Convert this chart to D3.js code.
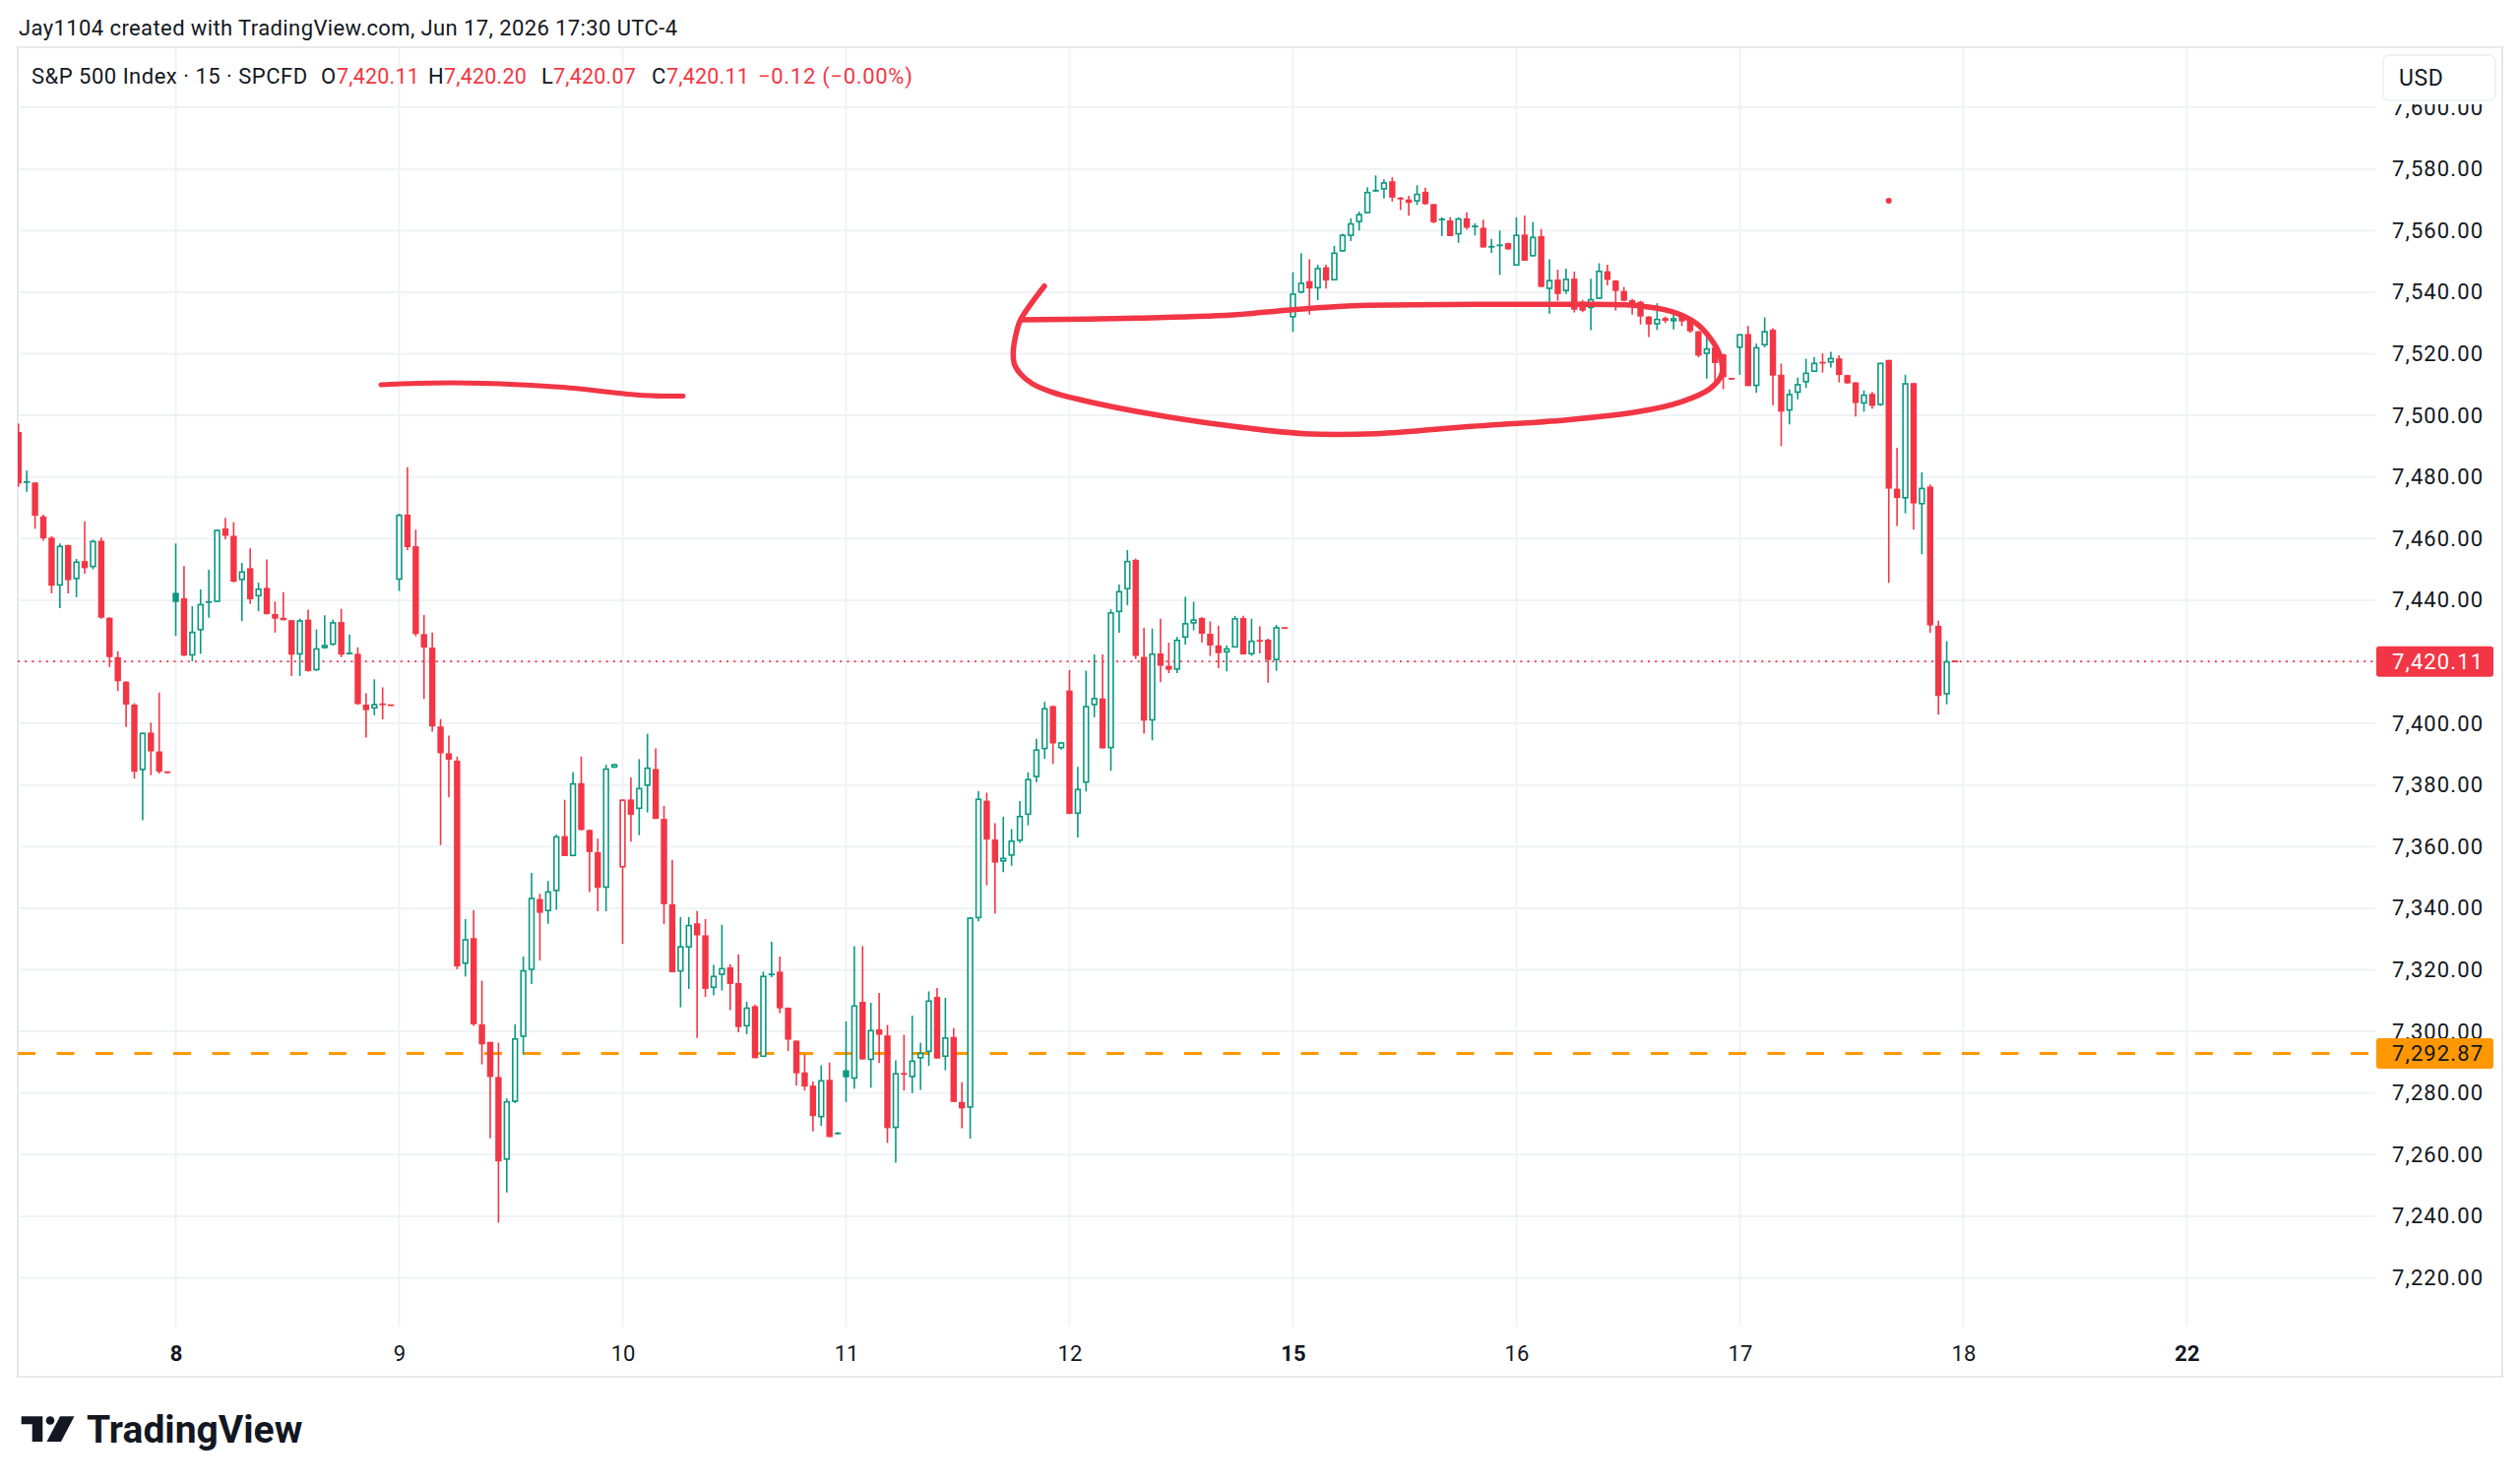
<!DOCTYPE html>
<html><head><meta charset="utf-8">
<script src="https://cdn.jsdelivr.net/npm/d3@7"></script>
<style>
html,body{margin:0;padding:0;background:#fff;}
svg{display:block;}
</style></head><body>
<svg id="chart" width="2560" height="1507"></svg>
<script>
// ---------- DATA ----------
const dayLabels = ["8","9","10","11","12","15","16","17","18","22"];
const dayLabelIndex = [0,27,54,81,108,135,162,189,216,243];
const boldDayLabels = ["8","15","22"];
const firstBarIndex = -19; // first visible bar (Jun 5 session)
const priceTicks = [7220,7240,7260,7280,7300,7320,7340,7360,7380,7400,7420,7440,7460,7480,7500,7520,7540,7560,7580,7600];
const levelPrice = 7292.87;

const opens = [
// Jun 5
7494.6,7478.2,7478.2,7467.2,7460.3,7444.7,7457.9,7446.8,7452.7,7450.7,7459.3,7434.3,7421.5,7413.5,7406.1,7384.8,7397.0,7390.9,7384.3,
// Jun 8
7442.4,7440.6,7422.0,7430.2,7439.2,7439.4,7463.3,7460.9,7446.5,7450.4,7441.2,7444.0,7435.5,7434.3,7433.5,7422.3,7433.7,7417.2,7424.4,7425.5,7432.9,7422.6,7422.6,7406.1,7404.8,7406.3,7406.0,
// Jun 9
7446.6,7467.8,7457.5,7429.0,7424.6,7399.0,7390.3,7387.9,7321.9,7330.3,7302.3,7296.6,7285.2,7258.3,7277.1,7298.2,7319.9,7343.0,7339.0,7345.5,7363.4,7356.9,7380.6,7365.4,7358.2,7346.6,7385.6,
// Jun 10
7353.2,7375.3,7372.2,7379.7,7385.2,7369.0,7341.3,7319.4,7327.2,7335.1,7331.2,7314.1,7318.3,7320.8,7315.7,7301.6,7308.2,7291.7,7318.4,7319.4,7307.7,7297.0,7286.7,7282.4,7272.1,7284.3,7266.8,
// Jun 11
7287.4,7284.6,7309.6,7290.7,7300.7,7298.7,7268.6,7286.3,7285.1,7291.2,7293.3,7311.2,7291.7,7298.2,7277.1,7275.2,7336.7,7374.9,7362.3,7355.1,7357.0,7361.8,7370.3,7382.5,7391.6,7405.6,7391.9,
// Jun 12
7410.7,7370.6,7380.7,7405.9,7408.1,7391.9,7436.1,7443.5,7453.1,7421.6,7400.9,7422.7,7418.7,7417.4,7427.8,7432.4,7434.2,7429.1,7425.3,7423.0,7424.6,7434.2,7422.4,7426.9,7427.2,7420.5,7431.0,
// Jun 15
7531.8,7539.8,7543.6,7541.2,7548.1,7543.8,7553.2,7558.2,7562.7,7565.6,7572.8,7573.3,7576.0,7570.7,7570.1,7569.4,7572.6,7568.6,7563.5,7563.3,7558.7,7564.0,7561.2,7560.9,7554.5,7555.1,7555.9,
// Jun 16
7548.6,7558.7,7551.6,7558.2,7541.0,7544.1,7540.3,7544.4,7536.9,7534.8,7537.8,7546.8,7543.8,7540.4,7537.4,7536.9,7532.1,7529.5,7531.6,7530.5,7532.1,7530.9,7527.3,7519.9,7522.0,7519.8,7512.0,
// Jun 17
7521.9,7526.4,7509.5,7522.7,7527.8,7513.2,7501.5,7507.3,7510.7,7514.1,7517.2,7517.1,7518.5,7513.1,7510.7,7503.8,7507.0,7503.3,7518.0,7476.2,7473.0,7510.5,7471.1,7476.9,7431.7,7409.4,7420.11
];
const highs = [
7497.3,7482.1,7478.3,7467.8,7460.8,7458.4,7458.0,7453.4,7465.6,7459.6,7460.3,7434.5,7423.4,7413.8,7406.6,7397.0,7400.2,7410.0,7384.4,
7458.4,7451.1,7438.0,7443.5,7449.9,7462.9,7466.7,7465.3,7452.1,7456.8,7445.7,7453.2,7439.6,7442.6,7433.6,7434.0,7436.9,7430.5,7435.1,7433.7,7437.2,7428.9,7424.7,7409.8,7414.3,7411.7,7406.1,
7468.1,7483.2,7462.9,7435.2,7429.5,7401.4,7396.0,7389.2,7336.5,7339.3,7316.5,7296.6,7296.3,7278.2,7302.3,7324.3,7351.5,7344.7,7348.8,7363.9,7375.2,7384.1,7389.2,7365.5,7362.6,7386.6,7386.9,
7375.3,7382.5,7388.4,7396.6,7391.9,7373.2,7355.7,7337.1,7337.1,7339.1,7336.5,7321.6,7334.6,7321.8,7325.0,7309.6,7308.7,7319.4,7329.1,7324.3,7307.8,7297.1,7292.5,7283.7,7289.0,7289.9,7267.3,
7303.2,7327.7,7327.7,7309.3,7312.5,7302.1,7290.6,7298.9,7305.1,7296.3,7313.0,7314.1,7310.9,7301.1,7283.5,7337.1,7378.0,7377.5,7367.6,7369.7,7365.7,7374.8,7384.1,7395.0,7407.0,7405.8,7394.0,
7417.3,7385.9,7417.1,7422.4,7422.4,7437.0,7445.1,7456.3,7453.5,7431.0,7430.8,7434.0,7426.2,7428.1,7441.1,7439.5,7434.5,7433.1,7431.7,7425.3,7434.9,7434.9,7434.0,7431.5,7427.5,7432.0,7431.2,
7546.5,7552.7,7550.7,7548.9,7548.9,7555.0,7559.0,7564.0,7566.2,7574.1,7577.9,7576.6,7577.3,7570.9,7571.3,7574.7,7573.9,7568.6,7564.3,7564.3,7564.3,7565.9,7562.4,7563.5,7557.3,7560.0,7556.0,
7564.3,7564.9,7562.8,7560.5,7550.7,7547.3,7547.6,7546.7,7537.5,7544.4,7549.4,7548.9,7543.9,7541.7,7537.8,7537.2,7532.2,7536.4,7532.1,7533.5,7532.5,7531.0,7527.4,7525.5,7522.5,7520.0,7512.1,
7526.4,7529.0,7523.3,7531.8,7528.3,7516.8,7508.4,7512.3,7518.4,7519.0,7520.1,7520.6,7519.5,7513.2,7510.8,7508.1,7507.6,7517.1,7518.0,7489.5,7513.2,7510.5,7481.5,7477.6,7433.3,7426.7,7420.20
];
const lows = [
7476.8,7475.2,7463.2,7459.3,7442.2,7437.4,7442.2,7441.0,7448.6,7450.0,7434.0,7418.3,7410.5,7398.8,7382.1,7368.6,7383.2,7383.7,7383.8,
7428.4,7421.8,7420.2,7422.6,7434.3,7439.4,7459.8,7445.8,7433.2,7438.8,7436.4,7435.3,7429.5,7433.4,7415.4,7415.4,7416.8,7417.0,7424.2,7425.2,7421.5,7422.4,7406.0,7395.4,7402.6,7401.3,7405.7,
7443.0,7456.3,7428.3,7407.9,7397.3,7360.5,7376.0,7320.2,7317.8,7301.8,7289.3,7265.3,7237.9,7247.7,7276.7,7292.5,7315.4,7323.0,7334.9,7339.5,7356.9,7356.8,7365.2,7345.2,7339.0,7339.0,7385.5,
7328.4,7361.6,7363.7,7371.1,7369.0,7334.8,7319.2,7307.8,7313.8,7297.9,7311.2,7311.7,7313.3,7306.9,7299.7,7299.1,7291.3,7291.7,7317.6,7305.9,7293.6,7282.4,7280.8,7267.5,7269.3,7265.7,7266.6,
7277.1,7281.4,7290.9,7281.7,7289.7,7263.8,7257.4,7280.8,7280.0,7281.0,7288.8,7291.2,7287.4,7277.1,7268.6,7265.2,7335.7,7347.4,7338.3,7351.7,7353.8,7361.2,7366.9,7380.9,7388.5,7386.8,7391.5,
7370.6,7363.0,7377.9,7402.0,7391.9,7384.6,7429.4,7438.4,7420.9,7396.7,7394.5,7413.4,7416.3,7416.3,7425.6,7430.2,7426.2,7421.9,7417.9,7416.9,7424.6,7422.4,7421.9,7422.7,7413.2,7417.1,7430.7,
7527.1,7539.6,7532.7,7537.4,7541.2,7543.8,7553.1,7556.6,7560.0,7565.6,7572.6,7570.4,7569.4,7566.7,7564.8,7568.3,7568.3,7562.4,7558.2,7558.2,7556.0,7560.3,7558.4,7554.5,7552.7,7545.6,7553.8,
7548.6,7550.2,7551.6,7541.7,7533.0,7537.2,7539.4,7533.4,7533.5,7527.7,7537.8,7542.2,7534.0,7537.0,7532.7,7529.5,7525.4,7527.7,7530.0,7527.9,7529.0,7526.8,7518.8,7511.9,7511.0,7508.5,7511.6,
7513.2,7509.5,7507.3,7522.1,7503.3,7490.0,7497.1,7505.2,7508.9,7514.1,7513.9,7515.5,7510.7,7510.2,7499.6,7501.2,7502.2,7503.1,7445.6,7464.1,7468.2,7462.9,7454.9,7429.4,7402.8,7406.2,7420.07
];
const closes = [
7477.9,7478.5,7467.4,7460.1,7444.7,7457.7,7446.5,7452.6,7450.4,7459.3,7434.3,7421.5,7413.7,7406.1,7384.3,7397.0,7390.9,7384.3,7384.0,
7439.4,7422.0,7429.8,7438.8,7439.6,7462.9,7460.9,7446.0,7449.4,7440.3,7443.8,7435.5,7434.0,7433.5,7422.3,7433.5,7417.0,7424.4,7425.5,7432.9,7422.3,7422.8,7406.3,7404.3,7406.3,7406.1,7405.8,
7467.8,7457.2,7429.0,7424.6,7399.0,7390.3,7388.2,7321.1,7330.0,7302.3,7295.8,7285.2,7257.8,7277.4,7297.8,7319.9,7343.4,7338.5,7345.5,7363.4,7356.9,7380.6,7365.4,7358.2,7346.6,7385.4,7386.8,
7375.3,7370.3,7379.1,7385.7,7369.0,7341.3,7319.2,7327.7,7334.6,7331.2,7313.8,7318.1,7320.6,7315.4,7301.4,7307.8,7291.3,7318.1,7318.6,7307.5,7297.3,7286.4,7282.1,7272.5,7284.2,7265.7,7267.0,
7285.1,7308.5,7290.9,7300.5,7298.9,7268.6,7286.5,7286.1,7290.6,7293.1,7310.1,7291.2,7298.1,7277.1,7275.0,7337.0,7375.6,7362.3,7354.8,7356.4,7362.0,7370.0,7382.0,7391.6,7405.0,7393.5,7393.9,
7370.6,7378.8,7405.7,7408.3,7391.9,7436.1,7443.0,7452.8,7421.9,7400.9,7422.7,7418.7,7417.4,7427.2,7432.6,7433.8,7429.1,7425.3,7422.8,7424.4,7434.2,7422.4,7426.9,7426.7,7420.6,7431.3,7430.9,
7539.6,7543.1,7541.2,7547.9,7543.8,7552.9,7558.7,7562.4,7565.4,7572.6,7573.1,7575.7,7570.7,7570.1,7569.0,7572.0,7568.6,7562.7,7563.7,7558.2,7564.0,7560.9,7561.5,7554.5,7555.0,7555.3,7553.9,
7558.7,7550.2,7558.0,7541.7,7544.0,7539.4,7544.4,7534.3,7534.0,7537.8,7547.0,7544.0,7540.4,7537.2,7535.9,7532.1,7529.5,7531.4,7530.7,7531.6,7530.5,7527.3,7519.4,7521.8,7517.0,7512.4,7511.8,
7526.4,7509.5,7522.2,7527.4,7512.9,7501.2,7507.0,7510.2,7513.9,7517.1,7517.0,7518.7,7513.1,7510.4,7504.0,7506.8,7503.1,7517.1,7476.2,7473.2,7510.5,7471.4,7476.5,7431.8,7408.9,7420.23,7420.11
];

// Hand-drawn annotations (bar index, price)
const loopIndex = [104.96,102.08,101.62,101.21,101.33,102.08,103.52,105.83,108.71,116.2,124.85,136.39,145.03,156.56,168.1,176.75,181.93,185.4,186.83,186.55,185.4,183.67,180.78,176.75,168.1,156.56,142.16,134.65,127.74,116.2,102.08];
const loopPrice = [7541.98,7531.02,7527.28,7520.89,7516.65,7513.45,7510.26,7507.6,7505.46,7501.21,7497.48,7494.06,7494.06,7496.42,7498.53,7501.21,7504.41,7508.66,7513.45,7519.84,7525.18,7529.97,7533.67,7535.59,7536.04,7536.04,7535.59,7534.22,7532.62,7531.57,7531.02];
const strokeIndex = [24.8,29.25,37.03,46.74,56.44,61.32];
const strokePrice = [7509.94,7510.45,7510.45,7509.14,7506.52,7506.26];
const dotIndex = [207.0];
const dotPrice = [7569.68];

// ---------- DRAW ----------
const FONT = "Roboto, 'Noto Sans', 'Liberation Sans', sans-serif";
const GREEN = "#089981", RED = "#f23645", ORANGE = "#ff9800", INK = "#131722";
const PL = 18, PR = 2413, PT = 48, PB = 1348, FR = 2542, FB = 1399;

const svg = d3.select("#chart").attr("font-family", FONT);
const x = d3.scaleLinear().domain([-19, 243]).range([18.8, 2221.4]);
const y = d3.scaleLinear().domain([7220, 7600]).range([1298.5, 109.1]);

svg.append("rect").attr("width", 2560).attr("height", 1507).attr("fill", "#fff");

// frame
svg.append("rect").attr("x", PL).attr("y", PT).attr("width", FR - PL).attr("height", FB - PT)
  .attr("fill", "#fff").attr("stroke", "#e6e8ec").attr("stroke-width", 2);

// grid
const gH = svg.append("g");
gH.selectAll("line").data(priceTicks).join("line")
  .attr("x1", PL).attr("x2", PR).attr("y1", d => y(d)).attr("y2", d => y(d))
  .attr("stroke", "#f0f2f5").attr("stroke-width", 2);
const gV = svg.append("g");
gV.selectAll("line").data(dayLabelIndex).join("line")
  .attr("x1", d => x(d)).attr("x2", d => x(d)).attr("y1", PT).attr("y2", PB)
  .attr("stroke", "#f0f2f5").attr("stroke-width", 2);

// clip
svg.append("clipPath").attr("id", "plotClip").append("rect")
  .attr("x", PL).attr("y", PT).attr("width", PR - PL).attr("height", PB - PT);
const plot = svg.append("g").attr("clip-path", "url(#plotClip)");

// horizontal level lines
plot.append("line").attr("x1", PL).attr("x2", PR)
  .attr("y1", y(levelPrice)).attr("y2", y(levelPrice))
  .attr("stroke", ORANGE).attr("stroke-width", 3).attr("stroke-dasharray", "18 21.5");
const lastClose = closes[closes.length - 1];
plot.append("line").attr("x1", PL).attr("x2", PR)
  .attr("y1", y(lastClose)).attr("y2", y(lastClose))
  .attr("stroke", RED).attr("stroke-width", 1.6).attr("stroke-dasharray", "2 5.2");

// candles
const bars = opens.map((o, k) => {
  const c = closes[k];
  const prev = k ? closes[k - 1] : o;
  return { i: firstBarIndex + k, o, h: highs[k], l: lows[k], c,
           up: c >= prev, hollow: c > o };
});
const bw = 6.4, sw = 1.6;
const cg = plot.append("g");
const cands = cg.selectAll("g").data(bars).join("g");
cands.append("line")
  .attr("x1", d => x(d.i)).attr("x2", d => x(d.i))
  .attr("y1", d => y(d.h)).attr("y2", d => y(d.l))
  .attr("stroke", d => d.up ? GREEN : RED).attr("stroke-width", sw);
cands.append("rect")
  .each(function(d) {
    const top = y(Math.max(d.o, d.c)), bot = y(Math.min(d.o, d.c));
    const h = bot - top;
    const col = d.up ? GREEN : RED;
    const sel = d3.select(this);
    if (d.hollow && h > 3) {
      sel.attr("x", x(d.i) - bw / 2 + sw / 2).attr("width", bw - sw)
        .attr("y", top + sw / 2).attr("height", h - sw)
        .attr("fill", "#fff").attr("stroke", col).attr("stroke-width", sw);
    } else {
      const hh = Math.max(h, 1.8);
      sel.attr("x", x(d.i) - bw / 2).attr("width", bw)
        .attr("y", (top + bot) / 2 - hh / 2).attr("height", hh)
        .attr("fill", col);
    }
  });

// annotations
const ann = plot.append("g").attr("fill", "none").attr("stroke", RED)
  .attr("stroke-linecap", "round").attr("stroke-linejoin", "round");
const lineGen = d3.line().x(d => x(d[0])).y(d => y(d[1])).curve(d3.curveCatmullRom.alpha(0.5));
ann.append("path").attr("d", lineGen(loopIndex.map((v, k) => [v, loopPrice[k]])))
  .attr("stroke-width", 5.5);
ann.append("path").attr("d", lineGen(strokeIndex.map((v, k) => [v, strokePrice[k]])))
  .attr("stroke-width", 5);
plot.append("g").selectAll("circle").data(dotIndex).join("circle")
  .attr("cx", d => x(d)).attr("cy", (d, k) => y(dotPrice[k])).attr("r", 3).attr("fill", RED);

// price axis
const yAxis = d3.axisRight(y).tickValues(priceTicks).tickFormat(d3.format(",.2f")).tickSize(0).tickPadding(17);
const ya = svg.append("g").attr("transform", `translate(${PR},0)`).call(yAxis);
ya.select(".domain").remove();
ya.attr("font-size", 22).attr("font-family", FONT);
ya.selectAll("text").attr("fill", INK).attr("letter-spacing", "1.1px");

// time axis
const xAxis = d3.axisBottom(x).tickValues(dayLabelIndex).tickFormat((d, k) => dayLabels[k]).tickSize(0).tickPadding(19);
const xa = svg.append("g").attr("transform", `translate(0,${PB})`).call(xAxis);
xa.select(".domain").remove();
xa.attr("font-size", 22).attr("font-family", FONT);
xa.selectAll("text").attr("fill", INK)
  .attr("font-weight", (d, k) => boldDayLabels.includes(dayLabels[k]) ? 700 : 400);

// price tags
const fmt = d3.format(",.2f");
function tag(price, bg, fg) {
  const g = svg.append("g");
  g.append("rect").attr("x", 2414).attr("y", y(price) - 15.5).attr("width", 119).attr("height", 31)
    .attr("rx", 3).attr("fill", bg);
  g.append("text").attr("x", 2430).attr("y", y(price)).attr("dy", "0.36em")
    .attr("font-size", 22).attr("fill", fg).attr("letter-spacing", "1.1px").text(fmt(price));
}
tag(lastClose, RED, "#fff");
tag(levelPrice, ORANGE, INK);

// USD box (covers the upper part of the top price label)
svg.append("rect").attr("x", 2416).attr("y", 50).attr("width", 124).attr("height", 56).attr("fill", "#fff");
svg.append("rect").attr("x", 2421).attr("y", 56).attr("width", 114).attr("height", 46).attr("rx", 6)
  .attr("fill", "#fff").attr("stroke", "#eceef2").attr("stroke-width", 1.5);
svg.append("text").attr("x", 2437).attr("y", 79).attr("dy", "0.36em").attr("font-size", 23)
  .attr("letter-spacing", "0.6px").attr("fill", INK).text("USD");

// top credit line
svg.append("text").attr("x", 19).attr("y", 28).attr("dy", "0.36em").attr("font-size", 22)
  .attr("letter-spacing", "0.4px").attr("fill", INK)
  .text("Jay1104 created with TradingView.com, Jun 17, 2026 17:30 UTC-4");

// legend row
const n = opens.length - 1;
const legend = [
  { x: 32, t: "S&P 500 Index · 15 · SPCFD", c: INK, fs: 22, ls: 0.5 },
  { x: 326, t: "O", c: INK, fs: 22, ls: 0 }, { x: 342, t: fmt(opens[n]), c: RED, fs: 21.5, ls: 0.2 },
  { x: 435, t: "H", c: INK, fs: 22, ls: 0 }, { x: 451, t: fmt(highs[n]), c: RED, fs: 21.5, ls: 0.2 },
  { x: 550, t: "L", c: INK, fs: 22, ls: 0 }, { x: 562, t: fmt(lows[n]), c: RED, fs: 21.5, ls: 0.2 },
  { x: 662, t: "C", c: INK, fs: 22, ls: 0 }, { x: 677, t: fmt(closes[n]), c: RED, fs: 21.5, ls: 0.2 },
  { x: 770, t: "−0.12 (−0.00%)", c: RED, fs: 22, ls: 0.7 }
];
svg.append("g").selectAll("text").data(legend).join("text")
  .attr("x", d => d.x).attr("y", 77).attr("dy", "0.36em").attr("font-size", d => d.fs)
  .attr("letter-spacing", d => d.ls + "px")
  .attr("fill", d => d.c).text(d => d.t);

// TradingView logo
const logo = svg.append("g").attr("fill", INK);
logo.append("path").attr("d", "M21.7,1439.3 H43.3 V1465 H32.7 V1447.3 H21.7 Z");
logo.append("circle").attr("cx", 51).attr("cy", 1443.5).attr("r", 4.3);
logo.append("path").attr("d", "M61,1439.3 H75.5 L62,1465 H47.5 Z");
logo.append("text").attr("x", 88).attr("y", 1466).attr("font-size", 39).attr("font-weight", 700)
  .attr("letter-spacing", "0px").text("TradingView");
</script>
</body></html>
